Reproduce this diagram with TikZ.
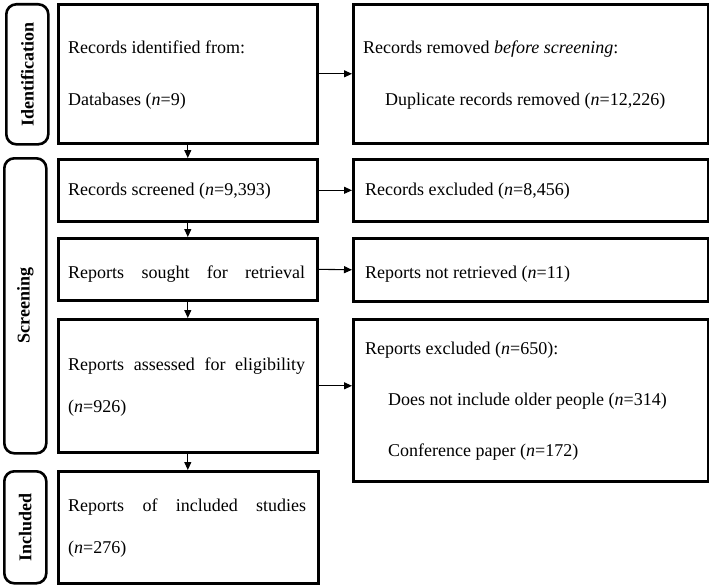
\documentclass[tikz,border=0pt]{standalone}
\usepackage{fontspec}
\setmainfont{Liberation Serif}
\usetikzlibrary{arrows.meta}
\begin{document}
\begin{tikzpicture}[x=1pt,y=-1pt,
  box/.style={draw, line width=2.6pt, rectangle, inner sep=0pt, anchor=north west},
  phase/.style={draw, line width=2.6pt, rectangle, rounded corners=10pt, inner sep=0pt, anchor=north west},
  phasetxt/.style={rotate=90, inner sep=0pt, font=\fontsize{18}{22}\selectfont\bfseries},
  txt/.style={inner sep=0pt, anchor=base west, font=\fontsize{18}{22}\selectfont},
  arr/.style={line width=1.1pt, -{Triangle[length=8pt,width=7pt]}}]
\useasboundingbox (0,0) rectangle (709,586);
% phase labels
\node[phase, minimum width=42pt, minimum height=140pt] (pid) at (5,3) {};
\node[phasetxt] (tid) at (pid.center) {Identification};
\node[phase, minimum width=42pt, minimum height=295pt] (psc) at (3,157) {};
\node[phasetxt] (tsc) at (psc.center) {Screening};
\node[phase, minimum width=42pt, minimum height=112pt] (pin) at (3,470) {};
\node[phasetxt] (tin) at (pin.center) {Included};
% left boxes
\node[box, minimum width=259pt, minimum height=139pt] (b1) at (57,3) {};
\node[box, minimum width=259pt, minimum height=62pt] (b2) at (57,158) {};
\node[box, minimum width=259pt, minimum height=62pt] (b3) at (57,237) {};
\node[box, minimum width=259pt, minimum height=133pt] (b4) at (57,318) {};
\node[box, minimum width=260pt, minimum height=112pt] (b5) at (57,470) {};
% right boxes
\node[box, minimum width=355pt, minimum height=139pt] (r1) at (352,3) {};
\node[box, minimum width=355pt, minimum height=62pt] (r2) at (352,158) {};
\node[box, minimum width=355pt, minimum height=63pt] (r3) at (352,237) {};
\node[box, minimum width=355pt, minimum height=162pt] (r4) at (352,318) {};
% texts left
\node[txt] (t1a) at (68,53) {Records identified from:};
\node[txt] (t1b) at (68,105) {Databases (\textit{n}=9)};
\node[txt] (t2) at (68,195) {Records screened (\textit{n}=9,393)};
\node[txt] (t3) at (68,278) {\makebox[237pt][s]{Reports sought for retrieval}};
\node[txt] (t4a) at (68,370) {\makebox[237pt][s]{Reports assessed for eligibility}};
\node[txt] (t4b) at (68,412) {(\textit{n}=926)};
\node[txt] (t5a) at (68,511) {\makebox[238pt][s]{Reports of included studies}};
\node[txt] (t5b) at (68,553) {(\textit{n}=276)};
% texts right
\node[txt] (u1a) at (363,53) {Records removed \textit{before screening}:};
\node[txt] (u1b) at (385,105) {Duplicate records removed (\textit{n}=12,226)};
\node[txt] (u2) at (365,195) {Records excluded (\textit{n}=8,456)};
\node[txt] (u3) at (365,278) {Reports not retrieved (\textit{n}=11)};
\node[txt] (u4a) at (365,354) {Reports excluded (\textit{n}=650):};
\node[txt] (u4b) at (388,405) {Does not include older people (\textit{n}=314)};
\node[txt] (u4c) at (388,456) {Conference paper (\textit{n}=172)};
% arrows
\draw[arr] (b1.east) -- (r1.west);
\draw[arr] (b2.east) -- (r2.west);
\draw[arr] (b3.east) -- (r3.west);
\draw[arr] (b4.east) -- (r4.west |- b4.east);
\draw[arr] (b1.south) -- (b2.north);
\draw[arr] (b2.south) -- (b3.north);
\draw[arr] (b3.south) -- (b4.north);
\draw[arr] (b4.south) -- (b4.south |- b5.north);
\end{tikzpicture}
\end{document}
